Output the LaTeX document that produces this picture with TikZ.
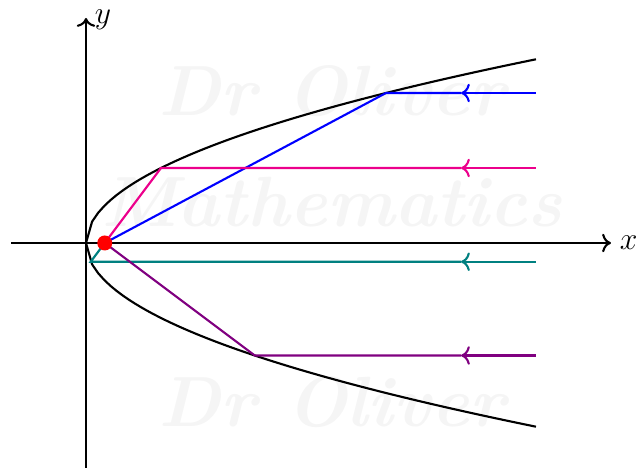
\documentclass[tikz,border=0pt]{standalone}
\usetikzlibrary{arrows.meta}
\definecolor{raypink}{RGB}{236,0,140}
\definecolor{rayteal}{RGB}{0,128,128}
\definecolor{raypurple}{RGB}{128,0,128}
\definecolor{wmark}{RGB}{245,245,245}
\begin{document}
\begin{tikzpicture}[x=0.25cm,y=0.25cm,
  wm/.style={text=wmark,font=\fontsize{27}{27}\selectfont\bfseries\itshape},
  lab/.style={font=\large,inner xsep=3pt,inner ysep=1pt},
  ray/.style={thick},
  curve/.style={thick,black},
  axis/.style={thick,->}]
\useasboundingbox (-4.587,-12.21) rectangle (29.44,12.96);
% watermark
\node[wm] (w1) at (13.1,8.1) {Dr Oliver};
\node[wm] (w2) at (13.1,2.2) {Mathematics};
\node[wm] (w3) at (13.1,-8.5) {Dr Oliver};
% axes
\coordinate (xl) at (-4,0);
\coordinate (xr) at (28,0);
\coordinate (yb) at (0,-12);
\coordinate (yt) at (0,12);
\draw[axis] (xl) -- (xr) node[right,lab] (xlab) {$x$};
\draw[axis] (yb) -- (yt) node[right,lab,yshift=-0.5pt] (ylab) {$y$};
% parabola y^2 = 4x
\draw[curve,domain=0:24,samples=75] plot (\x,{sqrt(4*\x)});
\draw[curve,domain=0:24,samples=75] plot (\x,{-sqrt(4*\x)});
% focus
\coordinate (F) at (1,0);
% rays
\coordinate (b0) at (24,8);  \coordinate (bm) at (20,8);  \coordinate (bp) at (16,8);
\coordinate (p0) at (24,4);  \coordinate (pm) at (20,4);  \coordinate (pp) at (4,4);
\coordinate (t0) at (24,-1); \coordinate (tm) at (20,-1); \coordinate (tp) at (0.25,-1);
\coordinate (v0) at (24,-6); \coordinate (vm) at (20,-6); \coordinate (vp) at (9,-6);
\draw[ray,blue,->] (b0) -- (bm);
\draw[ray,blue] (bm) -- (bp) -- (F);
\draw[ray,raypink,->] (p0) -- (pm);
\draw[ray,raypink] (pm) -- (pp) -- (F);
\draw[ray,rayteal,->] (t0) -- (tm);
\draw[ray,rayteal] (tm) -- (tp) -- (F);
\draw[ray,raypurple,->] (v0) -- (vm);
\draw[ray,raypurple] (vm) -- (vp) -- (F);
\node[circle,fill=red,inner sep=0pt,minimum size=0.2cm] (focus) at (F) {};
\end{tikzpicture}
\end{document}
